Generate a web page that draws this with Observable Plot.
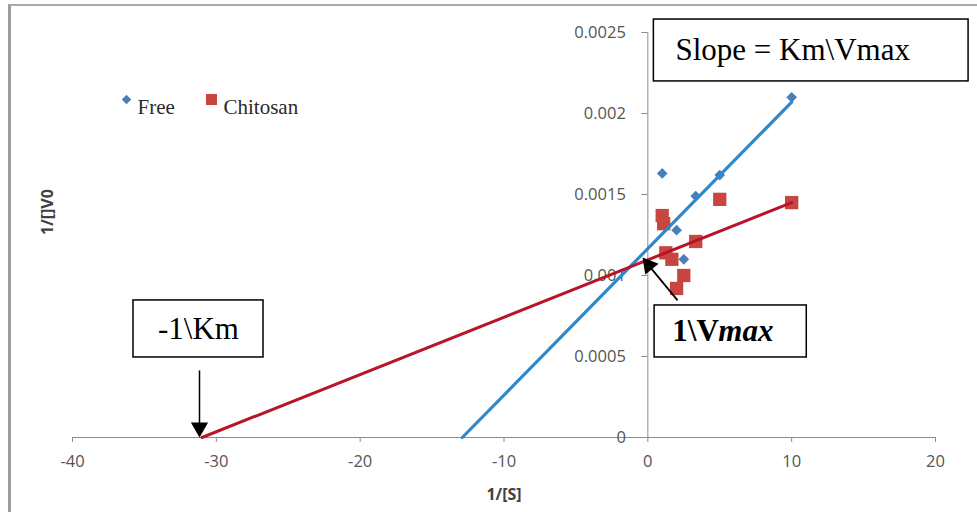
<!DOCTYPE html>
<html><head><meta charset="utf-8">
<script src="https://cdn.jsdelivr.net/npm/d3@7"></script>
<script src="https://cdn.jsdelivr.net/npm/@observablehq/plot@0.6"></script>
<style>
body{margin:0;background:#fff;}
#wrap{position:relative;width:977px;height:512px;overflow:hidden;background:#fff;}
#wrap svg{position:absolute;left:0;top:0;}
#frame{position:absolute;left:8px;top:4px;width:990px;height:520px;border-top:2px solid #a8a8a8;border-left:3px solid #9c9c9c;pointer-events:none;}
</style></head><body><div id="wrap"><div id="frame"></div></div>
<script>
// Data
const freeX = [1, 2, 2.5, 3.33, 5, 10];
const freeY = [0.00163, 0.00128, 0.0011, 0.00149, 0.00162, 0.0021];
const chitosanX = [1, 1.1, 1.25, 1.67, 2, 2.5, 3.33, 5, 10];
const chitosanY = [0.00137, 0.00132, 0.00114, 0.0011, 0.00092, 0.001, 0.00121, 0.00147, 0.00145];
// Trendlines (Excel, extended backward to the x-axis)
const freeFitX = [-12.9, 10];
const freeFitY = [0, 0.00207];
const chitosanFitX = [-31, 10];
const chitosanFitY = [0, 0.00145];
const seriesNames = ["Free", "Chitosan"];
const xTicks = [-40, -30, -20, -10, 0, 10, 20];
const yTicks = [0, 0.0005, 0.001, 0.0015, 0.002, 0.0025];
const xTitle = "1/[S]";
const yTitle = "1/[]V0";
const annotationTexts = ["Slope = Km\\Vmax", "-1\\Km", "1\\V", "max"];

const W = 977, H = 512, mL = 72, mR = 42, mT = 32, mB = 75;
const xDomain = [-40, 20], yDomain = [0, 0.0025];
const xs = d3.scaleLinear(xDomain, [mL, W - mR]);
const yAxisShift = xs(0) - mL;

const free = freeX.map((x, i) => ({x, y: freeY[i]}));
const chit = chitosanX.map((x, i) => ({x, y: chitosanY[i]}));
const freeFit = freeFitX.map((x, i) => ({x, y: freeFitY[i]}));
const chitFit = chitosanFitX.map((x, i) => ({x, y: chitosanFitY[i]}));

const axisGray = "#8c8c8c", labelGray = "#555";
const blue = "#4a7ebb", red = "#c8463f";
const serif = "'Liberation Serif', 'Times New Roman', serif";

const chart = Plot.plot({
  width: W, height: H,
  marginLeft: mL, marginRight: mR, marginTop: mT, marginBottom: mB,
  x: {domain: xDomain},
  y: {domain: yDomain},
  style: {fontFamily: "'Open Sans', sans-serif", background: "transparent", overflow: "visible"},
  marks: [
    Plot.ruleY([0], {stroke: axisGray}),
    Plot.ruleX([0], {y1: yDomain[0], y2: yDomain[1], stroke: axisGray}),
    Plot.axisX(xTicks, {anchor: "bottom", tickSize: 5, tickPadding: 13, tickFormat: d => String(d),
      stroke: axisGray, fill: labelGray, fontSize: 16.5, label: null}),
    Plot.axisY(yTicks, {anchor: "left", dx: yAxisShift, tickSize: 6, tickPadding: 16, tickFormat: d => String(d),
      stroke: axisGray, fill: labelGray, fontSize: 16.5, label: null}),
    Plot.text([xTitle], {frameAnchor: "bottom", dy: 62, fontSize: 16, fontWeight: "bold", fill: "#404040"}),
    Plot.text([yTitle], {frameAnchor: "left", dx: -25, rotate: -90, fontSize: 16, fontWeight: "bold", fill: "#404040"}),
    // points
    Plot.dot(chit, {x: "x", y: "y", symbol: "square", fill: red, r: 7.5}),
    Plot.dot(free, {x: "x", y: "y", symbol: "diamond2", fill: blue, r: 4.8}),
    // trendlines
    Plot.line(freeFit, {x: "x", y: "y", stroke: "#2e88cc", strokeWidth: 3.2}),
    Plot.line(chitFit, {x: "x", y: "y", stroke: "#b8142a", strokeWidth: 3}),
    // legend
    Plot.dot([seriesNames[0]], {frameAnchor: "top-left", dx: 54, dy: 67, symbol: "diamond2", fill: blue, r: 4.3}),
    Plot.text([seriesNames[0]], {frameAnchor: "top-left", dx: 65, dy: 67, text: d => d, textAnchor: "start",
      fontFamily: serif, fontSize: 21, fill: "#2a2a2a"}),
    Plot.dot([seriesNames[1]], {frameAnchor: "top-left", dx: 139, dy: 67, symbol: "square", fill: red, r: 6.2}),
    Plot.text([seriesNames[1]], {frameAnchor: "top-left", dx: 151, dy: 67, text: d => d, textAnchor: "start",
      fontFamily: serif, fontSize: 21, fill: "#2a2a2a"}),
    // annotation: slope box
    Plot.rect([0], {x1: 0.42, x2: 22.3, y1: 0.002198, y2: 0.00258, fill: "white", stroke: "black", strokeWidth: 1.5}),
    Plot.text([annotationTexts[0]], {x: 1.92, y: 0.00239, text: d => d, textAnchor: "start",
      fontFamily: serif, fontSize: 31, fill: "black"}),
    // annotation: -1/Km
    Plot.rect([0], {x1: -35.76, x2: -26.72, y1: 0.000494, y2: 0.000846, fill: "white", stroke: "black", strokeWidth: 1.5}),
    Plot.text([annotationTexts[1]], {x: -31.24, y: 0.00067, text: d => d, textAnchor: "middle",
      fontFamily: serif, fontSize: 31, fill: "black"}),
    Plot.link([0], {x1: chitosanFitX[0] - 0.17, x2: chitosanFitX[0] - 0.17, y1: 0.000414, y2: 0.00004, stroke: "black", strokeWidth: 1.5}),
    Plot.dot([0], {x: chitosanFitX[0] - 0.17, y: 0, dy: -10, symbol: "triangle", rotate: 180, fill: "black", r: 6.4}),
    // annotation: 1/Vmax
    Plot.rect([0], {x1: 0.47, x2: 11.05, y1: 0.000494, y2: 0.000815, fill: "white", stroke: "black", strokeWidth: 1.5}),
    Plot.text([0], {x: 1.7, y: 0.000654, text: () => annotationTexts[2], textAnchor: "start",
      fontFamily: serif, fontSize: 31, fontWeight: "bold", fill: "black"}),
    Plot.text([0], {x: 1.7, y: 0.000654, dx: 46, text: () => annotationTexts[3], textAnchor: "start",
      fontFamily: serif, fontSize: 31, fontWeight: "bold", fontStyle: "italic", fill: "black"}),
    Plot.link([0], {x1: 2.07, y1: 0.000846, x2: -0.2, y2: 0.00109, stroke: "black", strokeWidth: 1.8}),
    Plot.dot([0], {x: -0.37, y: 0.001111, dx: 6.3, dy: 7.8, symbol: "triangle", rotate: -39, fill: "black", r: 6.4})
  ]
});
document.getElementById("wrap").prepend(chart);
</script>
</body></html>
